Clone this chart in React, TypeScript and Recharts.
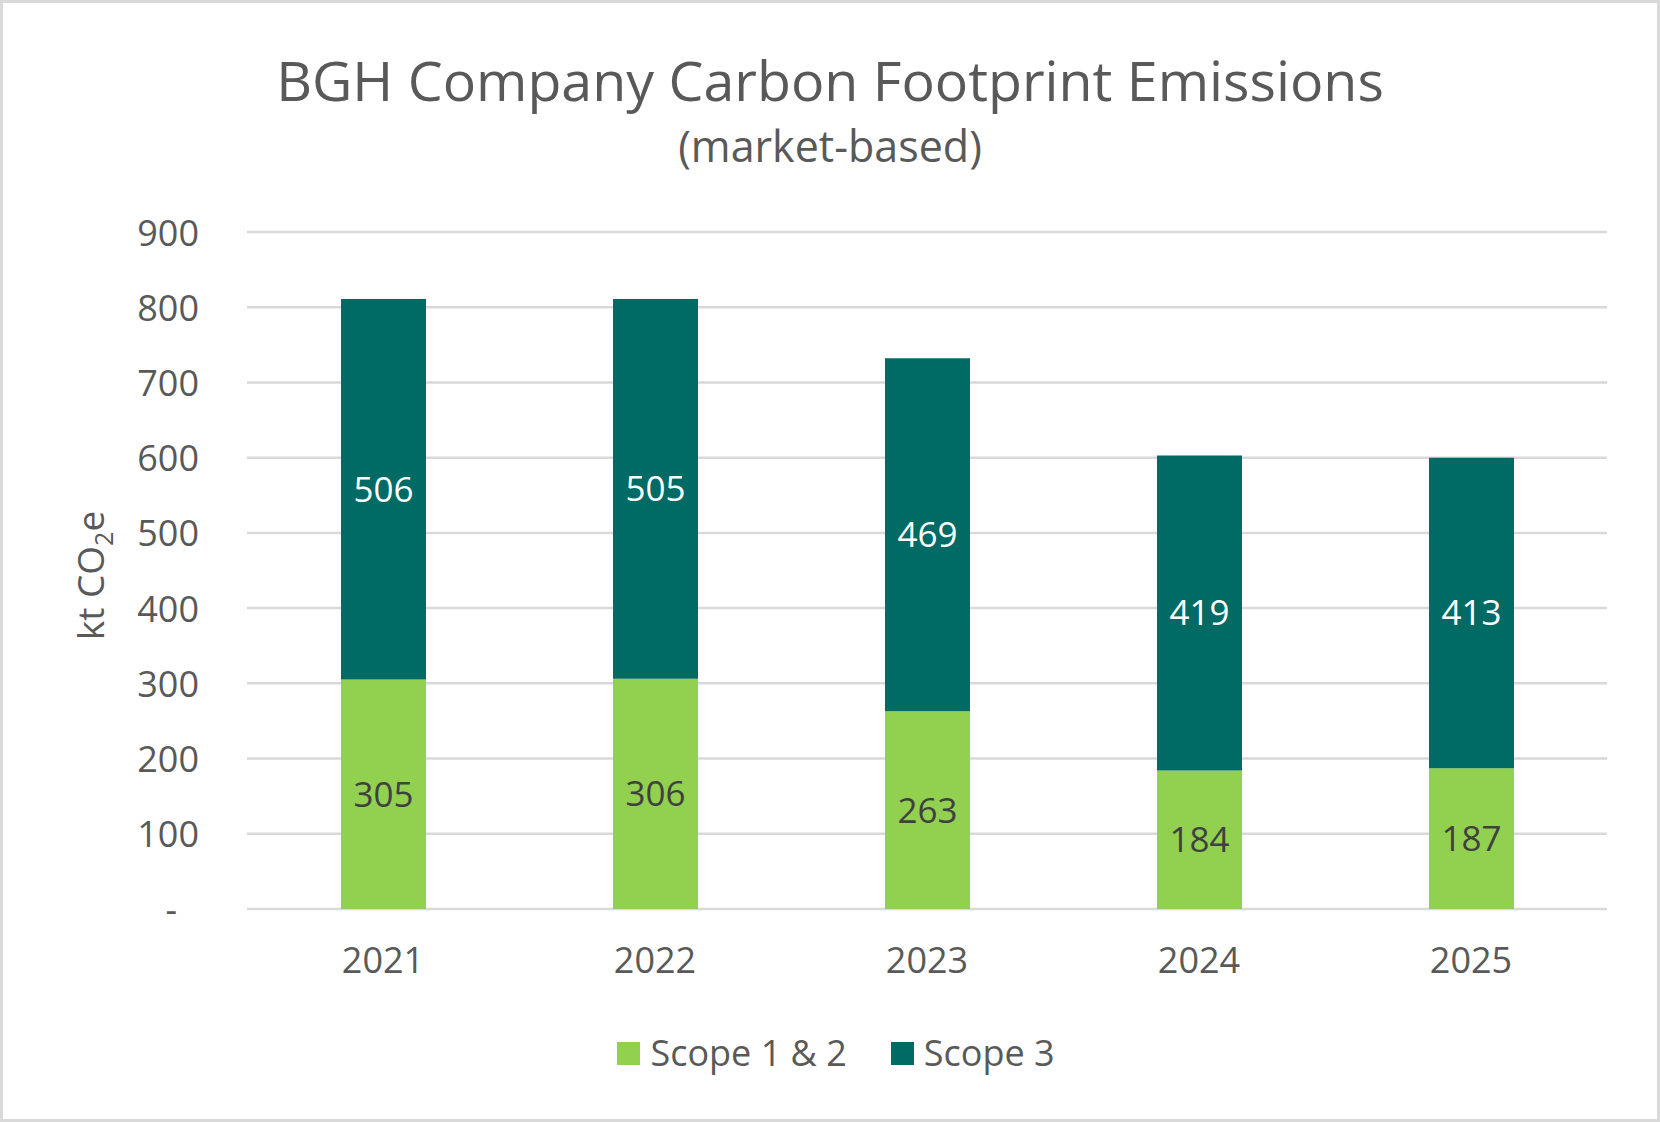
import { Bar, BarChart, CartesianGrid, LabelList, XAxis, YAxis } from 'recharts';

const years = ['2021', '2022', '2023', '2024', '2025'];
const scope12 = [305, 306, 263, 184, 187];
const scope3 = [506, 505, 469, 419, 413];
const yTicks = [0, 100, 200, 300, 400, 500, 600, 700, 800, 900];

const series = [
  { key: 'scope12', name: 'Scope 1 & 2', color: '#92D050', label: '#404040' },
  { key: 'scope3', name: 'Scope 3', color: '#006A65', label: '#FFFFFF' },
];

const data = years.map((year, i) => ({ year, scope12: scope12[i], scope3: scope3[i] }));

const FONT = '"Open Sans", "Noto Sans", sans-serif';
const TEXT = '#595959';

function YTick({ x, y, payload }: any) {
  const zero = payload.value === 0;
  return (
    <text
      x={zero ? x - 22 : x}
      y={y}
      textAnchor="end"
      dominantBaseline="central"
      fontSize={36}
      fontFamily={FONT}
      fill={TEXT}
    >
      {zero ? '-' : payload.value}
    </text>
  );
}

function YLabel({ viewBox }: any) {
  const cx = 104;
  const cy = viewBox.y + viewBox.height / 2 + 5;
  return (
    <text
      x={cx}
      y={cy}
      transform={`rotate(-90, ${cx}, ${cy})`}
      textAnchor="middle"
      fontSize={37}
      fontFamily={FONT}
      fill={TEXT}
    >
      kt CO
      <tspan dy={9} fontSize={25}>2</tspan>
      <tspan dy={-9}>e</tspan>
    </text>
  );
}

export default function App() {
  return (
    <div
      style={{
        position: 'absolute',
        left: 0,
        top: 0,
        width: 1660,
        height: 1122,
        background: '#fff',
        fontFamily: FONT,
      }}
    >
      <div
        style={{
          position: 'absolute',
          top: 52,
          left: 0,
          width: 1660,
          textAlign: 'center',
          fontSize: 55.5,
          lineHeight: 1,
          color: TEXT,
        }}
      >
        BGH Company Carbon Footprint Emissions
      </div>
      <div
        style={{
          position: 'absolute',
          top: 124,
          left: 0,
          width: 1660,
          textAlign: 'center',
          fontSize: 43,
          lineHeight: 1,
          color: TEXT,
        }}
      >
        (market-based)
      </div>

      <div style={{ position: 'absolute', left: 0, top: 0 }}>
        <BarChart
          width={1660}
          height={1122}
          data={data}
          margin={{ top: 232, right: 53, left: 0, bottom: 153 }}
        >
          <CartesianGrid vertical={false} stroke="#D9D9D9" strokeWidth={2.5} />
          <XAxis
            dataKey="year"
            height={60}
            axisLine={false}
            tickLine={false}
            tickSize={0}
            tickMargin={38}
            tick={{ fontSize: 36, fill: TEXT, fontFamily: FONT }}
          />
          <YAxis
            width={247}
            domain={[0, 900]}
            ticks={yTicks}
            interval={0}
            axisLine={false}
            tickLine={false}
            tickSize={0}
            tickMargin={48}
            tick={<YTick />}
            label={<YLabel />}
          />
          {series.map((s) => (
            <Bar
              key={s.key}
              dataKey={s.key}
              name={s.name}
              stackId="a"
              fill={s.color}
              barSize={85}
              isAnimationActive={false}
            >
              <LabelList
                dataKey={s.key}
                position="center"
                fill={s.label}
                fontSize={35}
                fontFamily={FONT}
              />
            </Bar>
          ))}
        </BarChart>
      </div>

      <div
        style={{
          position: 'absolute',
          top: 1030,
          left: 6,
          width: 1660,
          height: 46,
          display: 'flex',
          justifyContent: 'center',
          alignItems: 'center',
          gap: 44,
          fontSize: 36,
          color: TEXT,
        }}
      >
        {series.map((s) => (
          <div key={s.key} style={{ display: 'flex', alignItems: 'center', gap: 10 }}>
            <span style={{ width: 23, height: 23, background: s.color, display: 'inline-block' }} />
            <span style={{ lineHeight: 1 }}>{s.name}</span>
          </div>
        ))}
      </div>

      <div
        style={{
          position: 'absolute',
          inset: 0,
          border: '3px solid #D9D9D9',
          pointerEvents: 'none',
        }}
      />
    </div>
  );
}
